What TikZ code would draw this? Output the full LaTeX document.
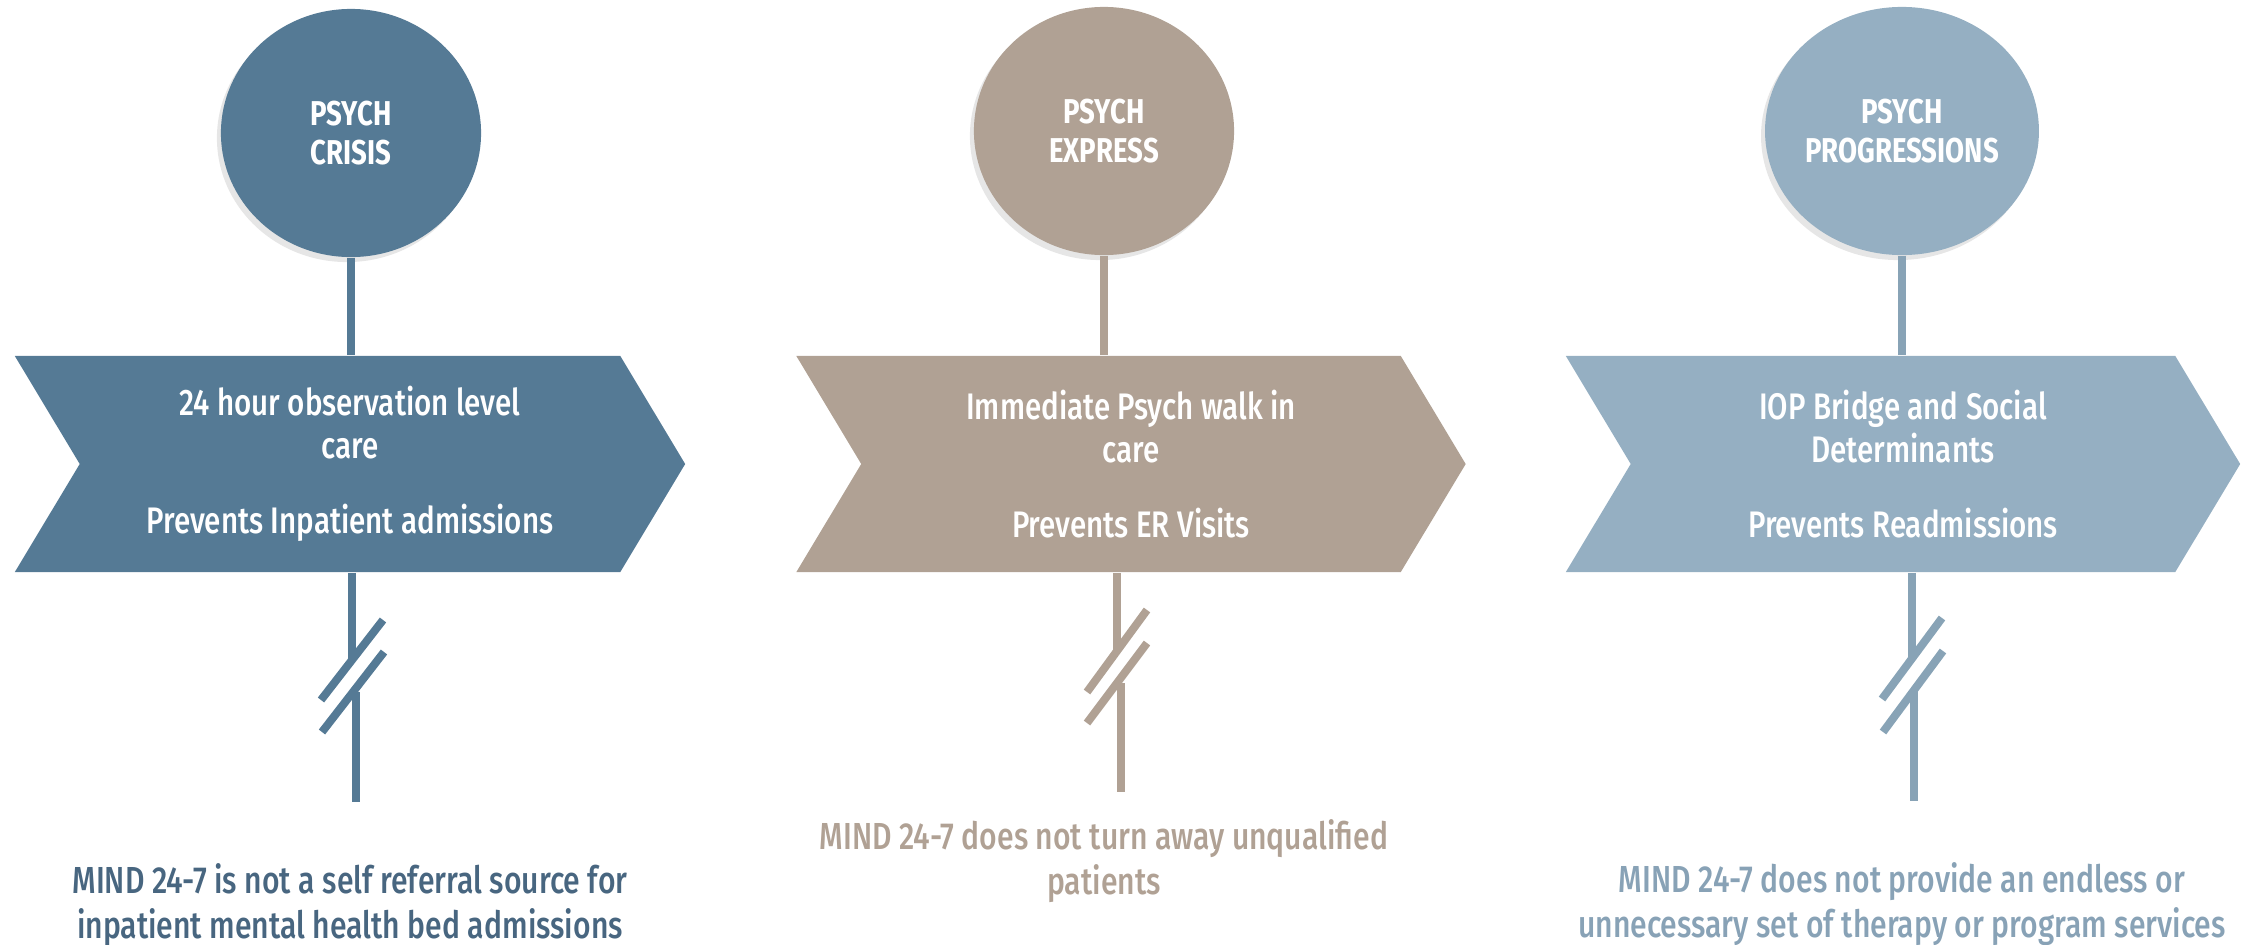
\documentclass[tikz,border=0pt]{standalone}
\usepackage{fontspec}
\setmainfont{Fira Sans Medium}[FakeStretch=0.8, BoldFont={Fira Sans Bold}, BoldFeatures={FakeStretch=0.8}]
\usepackage{tikz}
\usetikzlibrary{positioning, shapes.symbols, shapes.geometric, shadows}

\definecolor{crisis}{RGB}{85,122,149}
\definecolor{crisistext}{RGB}{72,102,128}
\definecolor{express}{RGB}{176,161,148}
\definecolor{progress}{RGB}{149,175,194}
\definecolor{progressline}{RGB}{136,163,182}
\definecolor{progresstext}{RGB}{136,162,182}

\begin{document}
\begin{tikzpicture}[x=0.01cm, y=-0.01cm,
    hub/.style={ellipse, minimum width=2.6cm, minimum height=2.48cm, inner sep=0pt, text=white, align=center, font=\fontsize{9.8}{11}\selectfont\bfseries, drop shadow={shadow xshift=-0.04cm, shadow yshift=-0.05cm, opacity=0.2}},
    band/.style={signal, signal from=west, signal to=east, signal pointer angle=118, minimum height=2.16cm, inner sep=0pt, text=white, align=center, font=\fontsize{10.5}{12.2}\selectfont},
    stem/.style={line width=0.08cm},
    note/.style={align=center, font=\fontsize{10.7}{13}\selectfont}]
\useasboundingbox (0,0) rectangle (2244,945);

\node[hub, fill=crisis] (c1) at (351,133) {PSYCH\\CRISIS};
\node[hub, fill=express] (c2) at (1104,131) {PSYCH\\EXPRESS};
\node[hub, fill=progress] (c3) at (1902,131) {PSYCH\\PROGRESSIONS};

\node[band, fill=crisis, minimum width=6.70cm] (a1) at (350,464) {24 hour observation level\\care\\[0.32cm]Prevents Inpatient admissions};
\node[band, fill=express, minimum width=6.69cm] (a2) at (1131,464) {Immediate Psych walk in\\care\\[0.32cm]Prevents ER Visits};
\node[band, fill=progress, minimum width=6.74cm] (a3) at (1903,464) {IOP Bridge and Social\\Determinants\\[0.32cm]Prevents Readmissions};

\draw[stem, crisis] (c1.south) -- (c1.south |- a1.north);
\draw[stem, express] (c2.south) -- (c2.south |- a2.north);
\draw[stem, progressline] (c3.south) -- (c3.south |- a3.north);

\coordinate (b1) at (352,660);
\coordinate (d1) at (353,692);
\coordinate (e1) at (356,802);
\draw[stem, crisis] (a1.south -| b1) -- (b1);
\draw[stem, crisis] (b1) ++(-31,40) -- ++(62,-80);
\draw[stem, crisis] (d1) ++(-31,40) -- ++(62,-80);
\draw[stem, crisis] (d1 -| e1) -- (e1);

\coordinate (b2) at (1117,651);
\coordinate (d2) at (1117,683);
\coordinate (e2) at (1121,792);
\draw[stem, express] (a2.south -| b2) -- (b2);
\draw[stem, express] (b2) ++(-30,41) -- ++(60,-82);
\draw[stem, express] (d2) ++(-30,40) -- ++(60,-80);
\draw[stem, express] (d2 -| e2) -- (e2);

\coordinate (b3) at (1912,658);
\coordinate (d3) at (1913,691);
\coordinate (e3) at (1914,801);
\draw[stem, progressline] (a3.south -| b3) -- (b3);
\draw[stem, progressline] (b3) ++(-30,41) -- ++(60,-81);
\draw[stem, progressline] (d3) ++(-30,41) -- ++(60,-81);
\draw[stem, progressline] (d3 -| e3) -- (e3);

\node[note, text=crisistext] (t1) at (350,905) {MIND 24-7 is not a self referral source for\\inpatient mental health bed admissions};
\node[note, text=express] (t2) at (1104,861) {MIND 24-7 does not turn away unqualified\\patients};
\node[note, text=progresstext] (t3) at (1902,904) {MIND 24-7 does not provide an endless or\\unnecessary set of therapy or program services};
\end{tikzpicture}
\end{document}
